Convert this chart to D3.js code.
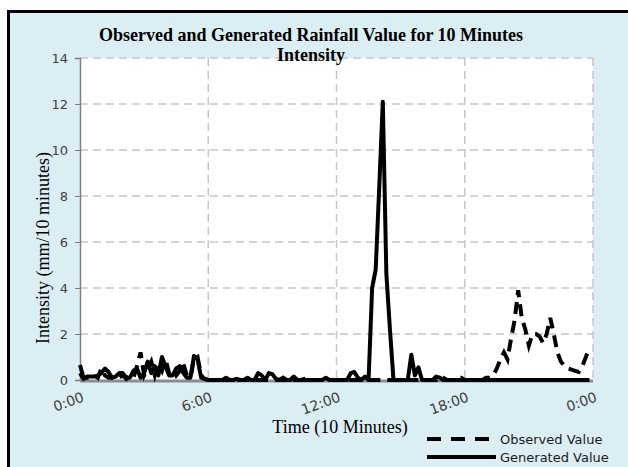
<!DOCTYPE html>
<html>
<head>
<meta charset="utf-8">
<script src="https://cdn.jsdelivr.net/npm/d3@7"></script>
<style>
  body { margin: 0; background: #fff; }
  svg { display: block; }
</style>
</head>
<body>
<svg id="chart"></svg>
<script>
// 10 minute steps, 0 = 0:00
var observed = [
  0.3, 0.05, 0.1, 0.1, 0.2, 0.1, 0.5, 0.2, 0.1, 0.1, 0.2, 0.1,
  0.2, 0.05, 0.2, 0.1, 0.6, 1.2, 0.2, 0.5, 0.8, 0.2, 0.7, 0.4,
  0.9, 0.3, 0.5, 0.2, 0.4, 0.7, 0.2, 0.1, 0.9, 1.0, 0.2, 0.05,
  0, 0, 0, 0, 0, 0, 0, 0, 0, 0, 0, 0,
  0, 0, 0, 0, 0, 0, 0, 0, 0, 0.1, 0, 0,
  0, 0, 0, 0.05, 0, 0, 0, 0, 0, 0, 0, 0,
  0, 0, 0, 0, 0, 0, 0, 0, 0, 0, 0, 0,
  0, 0, 0, 0, 0, 0, 0, 0, 0, 0, 0, 0,
  0, 0, 0, 0, 0, 0.15, 0.1, 0, 0, 0, 0.1, 0.1,
  0, 0, 0, 0, 0, 0, 0.1, 0.1, 0.2, 0.5, 0.9, 1.2,
  0.9, 1.8, 2.6, 3.9, 2.7, 2.2, 1.5, 2.0, 2.0, 1.9, 1.6, 2.0,
  2.7, 2.0, 1.2, 0.8, 0.6, 0.5, 0.45, 0.4, 0.35, 0.6, 1.0, 1.4
];

var generated = [
  0.65, 0.1, 0.15, 0.15, 0.15, 0.2, 0.3, 0.5, 0.35, 0.1, 0.15, 0.3,
  0.3, 0.1, 0.1, 0.4, 0.5, 0.1, 0.3, 0.8, 0.3, 0.6, 0.2, 1.0,
  0.6, 0.2, 0.2, 0.5, 0.6, 0.3, 0.1, 0.1, 1.05, 0.9, 0.1, 0.05,
  0, 0, 0, 0, 0, 0.1, 0, 0, 0.05, 0, 0, 0.1,
  0, 0, 0.3, 0.2, 0, 0.3, 0.25, 0.05, 0, 0, 0, 0,
  0.15, 0, 0, 0, 0, 0, 0, 0, 0, 0.1, 0, 0,
  0, 0, 0, 0, 0.3, 0.35, 0.1, 0, 0.15, 0, 4.0, 4.8,
  8.4, 12.1, 4.6, 2.2, 0, 0, 0, 0, 0, 1.1, 0.2, 0.55,
  0, 0, 0, 0, 0.15, 0.1, 0, 0, 0, 0, 0, 0,
  0, 0, 0, 0, 0, 0, 0, 0, 0, 0, 0, 0,
  0, 0, 0, 0, 0, 0, 0, 0, 0, 0, 0, 0,
  0, 0, 0, 0, 0, 0, 0, 0, 0, 0, 0, 0
];

var xTicks = [0, 36, 72, 108, 144];
var xTickLabels = ["0:00", "6:00", "12:00", "18:00", "0:00"];
var yTicks = [0, 2, 4, 6, 8, 10, 12, 14];

var W = 628, H = 467;
var plotLeft = 80, plotRight = 593, plotTop = 58, plotBottom = 380;

var svg = d3.select("#chart")
    .attr("width", W)
    .attr("height", H);

// outer chart box (runs off the right and bottom edges)
svg.append("rect")
    .attr("x", 8.5)
    .attr("y", 11.5)
    .attr("width", 700)
    .attr("height", 500)
    .attr("fill", "#dbeef4")
    .attr("stroke", "#000")
    .attr("stroke-width", 3);

var x = d3.scaleLinear().domain([0, 144]).range([plotLeft, plotRight]);
var y = d3.scaleLinear().domain([0, 14]).range([plotBottom, plotTop]);

svg.append("rect")
    .attr("x", plotLeft)
    .attr("y", plotTop)
    .attr("width", plotRight - plotLeft)
    .attr("height", plotBottom - plotTop)
    .attr("fill", "#fff");

// grid
var grid = svg.append("g").attr("stroke", "#c6c6c6").attr("stroke-width", 1.5)
    .attr("stroke-dasharray", "8,5");

grid.selectAll("line.h")
    .data(yTicks.filter(function(d) { return d > 0; }))
    .enter().append("line")
    .attr("x1", plotLeft)
    .attr("x2", plotRight)
    .attr("y1", function(d) { return y(d); })
    .attr("y2", function(d) { return y(d); });

grid.selectAll("line.v")
    .data(xTicks.slice(1))
    .enter().append("line")
    .attr("y1", plotTop)
    .attr("y2", plotBottom)
    .attr("x1", function(d) { return x(d); })
    .attr("x2", function(d) { return x(d); });

// y axis
var yAxis = svg.append("g")
    .attr("transform", "translate(" + plotLeft + ",0)")
    .call(d3.axisLeft(y).tickValues(yTicks).tickSize(5).tickPadding(7));
yAxis.select(".domain").attr("stroke", "#7f7f7f").attr("stroke-width", 1.5);
yAxis.selectAll(".tick line").attr("stroke", "#7f7f7f");
yAxis.selectAll("text")
    .attr("font-family", "DejaVu Sans, Verdana, sans-serif")
    .attr("font-size", 13)
    .attr("fill", "#404040");

// x axis line
svg.append("line")
    .attr("x1", plotLeft)
    .attr("x2", plotRight)
    .attr("y1", plotBottom + 1)
    .attr("y2", plotBottom + 1)
    .attr("stroke", "#8c8c8c")
    .attr("stroke-width", 3);

svg.selectAll("text.xt")
    .data(xTicks)
    .enter().append("text")
    .attr("class", "xt")
    .attr("transform", function(d) { return "translate(" + (x(d) + 5) + ",401) rotate(-20)"; })
    .attr("text-anchor", "end")
    .attr("font-family", "DejaVu Sans, Verdana, sans-serif")
    .attr("font-size", 14)
    .attr("fill", "#404040")
    .text(function(d, i) { return xTickLabels[i]; });

// series
var line = d3.line()
    .x(function(d, i) { return x(i); })
    .y(function(d) { return y(d); });

svg.append("path")
    .datum(observed)
    .attr("d", line)
    .attr("fill", "none")
    .attr("stroke", "#000")
    .attr("stroke-width", 4)
    .attr("stroke-dasharray", "12,7");

svg.append("path")
    .datum(generated)
    .attr("d", line)
    .attr("fill", "none")
    .attr("stroke", "#000")
    .attr("stroke-width", 4)
    .attr("stroke-linejoin", "round");

// titles
var title = svg.append("text")
    .attr("x", 311)
    .attr("text-anchor", "middle")
    .attr("font-family", "Liberation Serif, Times New Roman, serif")
    .attr("font-weight", "bold")
    .attr("font-size", 18);
title.append("tspan").attr("x", 311).attr("y", 41)
    .text("Observed and Generated Rainfall Value for 10 Minutes");
title.append("tspan").attr("x", 311).attr("y", 61)
    .text("Intensity");

svg.append("text")
    .attr("x", 340)
    .attr("y", 433)
    .attr("text-anchor", "middle")
    .attr("font-family", "Liberation Serif, Times New Roman, serif")
    .attr("font-size", 18)
    .text("Time (10 Minutes)");

svg.append("text")
    .attr("transform", "translate(49,248) rotate(-90)")
    .attr("text-anchor", "middle")
    .attr("font-family", "Liberation Serif, Times New Roman, serif")
    .attr("font-size", 18)
    .text("Intensity (mm/10 minutes)");

// legend
var legend = [
  { name: "Observed Value", dash: "14,10", y: 439 },
  { name: "Generated Value", dash: null, y: 457 }
];

var lg = svg.selectAll("g.legend")
    .data(legend)
    .enter().append("g")
    .attr("class", "legend");

lg.append("line")
    .attr("x1", 427)
    .attr("x2", 496)
    .attr("y1", function(d) { return d.y; })
    .attr("y2", function(d) { return d.y; })
    .attr("stroke", "#000")
    .attr("stroke-width", 4)
    .attr("stroke-dasharray", function(d) { return d.dash; });

lg.append("text")
    .attr("x", 500)
    .attr("y", function(d) { return d.y + 5; })
    .attr("font-family", "DejaVu Sans, Verdana, sans-serif")
    .attr("font-size", 13)
    .attr("fill", "#1a1a1a")
    .text(function(d) { return d.name; });
</script>
</body>
</html>
